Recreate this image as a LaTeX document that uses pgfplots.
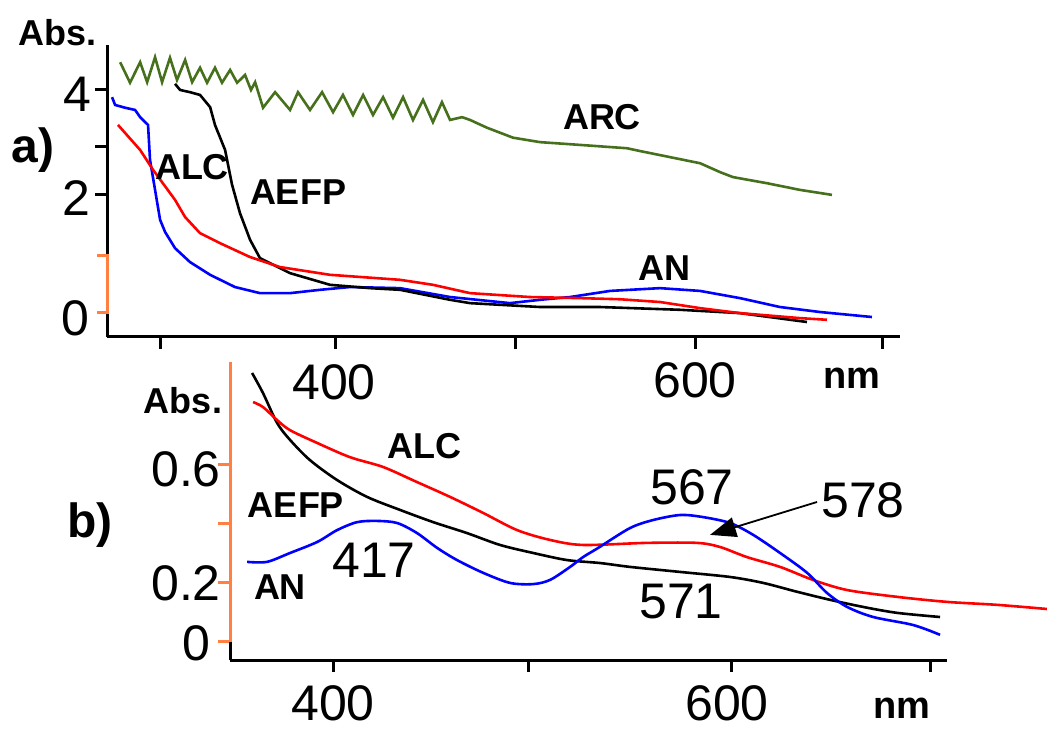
\documentclass[border=0pt]{standalone}
\usepackage{fontspec}
\setmainfont{Liberation Sans}
\usepackage{pgfplots}
\pgfplotsset{compat=1.18}
\usetikzlibrary{arrows.meta}
\definecolor{arcgreen}{RGB}{70,112,28}
\definecolor{axorange}{RGB}{255,128,64}

\newcommand\num{\fontsize{25}{28}\selectfont}
\newcommand\lbl{\fontsize{18}{20}\selectfont\bfseries}

\pgfplotsset{
  spec/.style={
    scale only axis, clip=false,
    axis x line*=bottom, axis y line*=left,
    axis line style={line width=1.5pt},
    tick align=outside, major tick length=6pt,
    tick style={line width=1.5pt, black},
    xticklabels={}, yticklabels={},
    every axis plot/.append style={line width=1.3pt, no marks},
  },
}

\begin{document}
\begin{tikzpicture}
\path[use as bounding box] (0,0) rectangle (523.5pt,364pt);

% a) full range
\begin{axis}[spec, at={(53.5pt,195.5pt)}, anchor=south west,
  width=396.5pt, height=146pt,
  xmin=273.3, xmax=713.9, ymin=-0.45, ymax=4.81,
  xtick={303.2,400,500,600,703.9}, ytick={2.108,2.973,4}]
\addplot[blue] coordinates {
  (276.1,3.87)(277.8,3.73)(283.3,3.68)(288.9,3.64)(291.7,3.51)(296.1,3.37)
  (297.2,2.74)(300,2.20)(302.8,1.66)(305.6,1.44)(311.1,1.15)(319.4,0.90)
  (330.6,0.67)(344.4,0.45)(358.3,0.34)(375,0.34)(391.7,0.40)(408.3,0.45)
  (436.1,0.43)(463.9,0.27)(497.2,0.16)(513.9,0.22)(530.6,0.27)(552.8,0.38)
  (580.6,0.43)(602.8,0.38)(625,0.25)(647.2,0.09)(669.4,0)(698.3,-0.09)};
\addplot[black] coordinates {
  (311.1,4.11)(313.9,4.00)(319.4,3.96)(325,3.91)(330.6,3.69)(333.3,3.37)
  (338.9,2.92)(342.8,2.29)(347.2,1.78)(352.8,1.30)(358.3,0.97)(375,0.70)
  (397.2,0.49)(419.4,0.43)(436.1,0.40)(463.9,0.22)(475,0.16)(513.9,0.09)
  (547.2,0.09)(591.7,0.04)(625,-0.02)(662.2,-0.18)};
\addplot[red] coordinates {
  (279.4,3.37)(291.7,2.92)(298.9,2.56)(311.1,2.02)(316.7,1.71)(325,1.42)
  (336.1,1.24)(352.8,0.99)(369.4,0.81)(397.2,0.67)(436.1,0.58)(454.4,0.49)
  (475,0.34)(508.3,0.27)(536.1,0.25)(558.3,0.23)(580.6,0.18)(602.8,0.07)
  (625,-0.02)(658.3,-0.11)(673.3,-0.14)};
\addplot[arcgreen] coordinates {
  (280.6,4.50)(286.1,4.13)(291.7,4.50)(295.6,4.14)(300,4.59)(303.9,4.14)
  (308.3,4.58)(312.2,4.18)(316.7,4.54)(320.6,4.14)(325,4.40)(328.9,4.13)
  (333.3,4.40)(337.2,4.13)(341.7,4.36)(345.6,4.13)(350,4.27)(353.3,4.00)
  (355.6,4.14)(360,3.68)(366.7,3.96)(375,3.64)(379.4,3.96)(386.1,3.64)
  (392.8,3.96)(398.9,3.60)(404.4,3.91)(410,3.55)(415.6,3.91)(421.1,3.55)
  (426.7,3.87)(432.2,3.50)(437.8,3.87)(443.3,3.46)(448.9,3.82)(454.4,3.42)
  (459.4,3.78)(463.9,3.46)(470.6,3.51)(475,3.46)(484.4,3.32)(498.9,3.14)
  (513.9,3.06)(536.1,3.01)(562.2,2.95)(569.4,2.90)(586.1,2.79)(602.8,2.68)
  (613.9,2.52)(621.1,2.43)(640,2.32)(658.3,2.20)(676.1,2.11)};
% orange bracket marking the 0-1 range
\draw[axorange, line width=1.5pt]
  ([xshift=-5pt]axis cs:273.3,0) -- (axis cs:273.3,0)
  -- (axis cs:273.3,1.027) -- ([xshift=-5pt]axis cs:273.3,1.027);
\end{axis}

% b) zoom on the visible range
\begin{axis}[spec, at={(115pt,34pt)}, anchor=south west,
  width=358.5pt, height=149pt,
  xmin=348.2, xmax=708.5, ymin=-0.061, ymax=0.944,
  xtick={400,498,600,700}, ytick={0,0.2,0.4,0.6},
  y axis line style={draw=axorange}, ytick style={draw=axorange}]
\addplot[black, smooth] coordinates {
  (359.3,0.907)(364.8,0.839)(371.9,0.738)(378.4,0.681)(388.4,0.613)(402,0.546)
  (417.1,0.489)(433.7,0.445)(450.3,0.404)(467.3,0.367)(483.9,0.327)(500.5,0.300)
  (517.6,0.276)(534.2,0.266)(549.2,0.253)(574.4,0.236)(599.5,0.219)(616.1,0.199)
  (633.2,0.169)(649.7,0.142)(666.3,0.118)(683.4,0.098)(705.0,0.084)};
\addplot[red, smooth] coordinates {
  (359.8,0.809)(364.8,0.792)(371.9,0.748)(378.4,0.714)(392.0,0.671)(408.5,0.623)
  (425.1,0.590)(442.2,0.539)(458.8,0.489)(475.4,0.435)(492.5,0.377)(509.0,0.344)
  (525.6,0.327)(557.8,0.334)(582.9,0.334)(594.5,0.320)(608.0,0.286)(624.6,0.253)
  (641.2,0.209)(658.3,0.175)(683.4,0.152)(708.5,0.135)(733.7,0.125)(758.8,0.111)};
\addplot[blue, smooth] coordinates {
  (356.8,0.270)(366.8,0.270)(378.4,0.300)(392.0,0.337)(402.0,0.377)(412.1,0.404)
  (422.1,0.408)(432.2,0.401)(442.2,0.367)(452.3,0.317)(462.3,0.276)(475.4,0.233)
  (488.9,0.199)(500.5,0.195)(509.0,0.209)(519.1,0.253)(525.6,0.286)(533.2,0.317)
  (549.2,0.384)(560.8,0.411)(574.4,0.428)(585.9,0.421)(599.5,0.401)(611.1,0.361)
  (624.6,0.300)(638.2,0.233)(648.2,0.165)(658.3,0.118)(671.4,0.084)(691.5,0.057)
  (705.0,0.024)};
\draw[black, line width=1.5pt] (axis cs:348.2,-0.061) -- (axis cs:348.2,0);
\draw[black, line width=0.9pt, -{Triangle[length=13pt,width=10pt]}]
  (axis cs:643.2,0.472) -- (axis cs:589.4,0.361);
\end{axis}

% texts placed in image pixel positions
\begin{scope}[x=0.5pt, y=-0.5pt, yshift=364pt]
\node[font=\lbl] at (58,33) {Abs.};
\node[font=\fontsize{24}{26}\selectfont\bfseries] at (33,150) {a)};
\node[font=\num] at (77,94) {4};
\node[font=\num] at (76,198) {2};
\node[font=\num] at (75,318) {0};
\node[font=\lbl] at (192,167) {ALC};
\node[font=\lbl] at (298,192) {AEFP};
\node[font=\lbl] at (602,117) {ARC};
\node[font=\lbl] at (664,268) {AN};
\node[font=\num] at (334,382) {400};
\node[font=\num] at (695,380) {600};
\node[font=\fontsize{19}{20}\selectfont\bfseries] at (852,378) {nm};

\node[font=\lbl] at (183,401) {Abs.};
\node[font=\fontsize{24}{26}\selectfont\bfseries] at (90,525) {b)};
\node[font=\num] at (186,469) {0.6};
\node[font=\num] at (186,583) {0.2};
\node[font=\num] at (196,643) {0};
\node[font=\lbl] at (296,505) {AEFP};
\node[font=\lbl] at (280,587) {AN};
\node[font=\lbl] at (424,446) {ALC};
\node[font=\num] at (374,560) {417};
\node[font=\num] at (692,487) {567};
\node[font=\num] at (863,500) {578};
\node[font=\num] at (681,602) {571};
\node[font=\num] at (333,703) {400};
\node[font=\num] at (727,703) {600};
\node[font=\fontsize{19}{20}\selectfont\bfseries] at (902,708) {nm};
\end{scope}
\end{tikzpicture}
\end{document}
